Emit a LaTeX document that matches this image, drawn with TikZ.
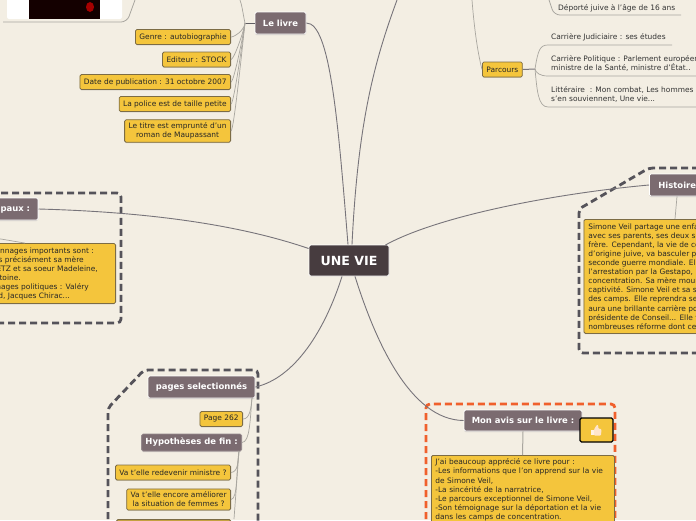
\documentclass[tikz,border=0pt]{standalone}
\usepackage{fontspec}
\setmainfont{DejaVu Sans}
\usepackage{tikz}
\usetikzlibrary{positioning, calc, shadows}

\definecolor{paper}{HTML}{F3EEE3}
\definecolor{leafyellow}{HTML}{F4C53C}
\definecolor{leafedge}{HTML}{7C6C45}
\definecolor{titlegrey}{HTML}{7B6B70}
\definecolor{coredark}{HTML}{473C3F}
\definecolor{zonegrey}{HTML}{55535A}
\definecolor{zoneorange}{HTML}{F0602C}
\definecolor{linkgrey}{HTML}{77747A}
\definecolor{twiggrey}{HTML}{A9A69F}

\tikzset{
  leafbox/.style={draw=leafedge, fill=leafyellow, line width=0.8pt, rounded corners=1.5pt,
    font=\fontsize{7.45}{9.1}\selectfont, text=black!85, align=left, inner xsep=4pt, inner ysep=3pt,
    minimum height=15pt,
    drop shadow={shadow xshift=0pt, shadow yshift=-0.8pt, opacity=.35}},
  titlebox/.style={draw=white, fill=titlegrey, line width=0.8pt, rounded corners=1.5pt,
    font=\fontsize{8.45}{10}\bfseries\selectfont, text=white, inner sep=0pt,
    drop shadow={shadow xshift=0pt, shadow yshift=-1pt, opacity=.3}},
  plainleaf/.style={font=\fontsize{7.45}{9.1}\selectfont, text=black!80, align=left, inner sep=0pt, anchor=north west},
  zone/.style={line width=2.8pt, dash pattern=on 7pt off 4pt, rounded corners=4pt},
  mainlink/.style={draw=linkgrey, line width=0.9pt},
  twig/.style={draw=twiggrey, line width=0.7pt},
  under/.style={draw=twiggrey, line width=0.8pt, rounded corners=6pt},
}

\begin{document}
\begin{tikzpicture}[x=1pt, y=-1pt]
\useasboundingbox (0,0) rectangle (696,520);
\clip (0,0) rectangle (696,520);
\fill[paper] (0,0) rectangle (696,520);

% zones
\draw[zone, zonegrey] (-10,193) -- (121,193) -- (121,323) -- (-10,323);
\draw[zone, zonegrey] (710,168) -- (649,168) -- (579,209) -- (579,353) -- (710,353);
\draw[zone, zonegrey] (108,530) -- (108,408) -- (144,370) -- (258,370) -- (258,530);
\draw[zone, zoneorange] (426,530) -- (426,404) -- (615,404) -- (615,530);

% book cover
\fill[white, rounded corners=2pt] (7,-5) rectangle (122,19);
\fill[black!92!red] (29,-5) rectangle (100,19);
\fill[red!65!black] (90,7) circle [x radius=4, y radius=5];
\coordinate (coverend) at (135,0);
\coordinate (coverstart) at (3,22);
\draw[under] (coverstart) -- (127,22) -- (coverend);

% centre and main branches
\node[draw=white, fill=coredark, line width=0.8pt, rounded corners=1.5pt, inner sep=0pt,
  minimum width=80pt, minimum height=31pt, text=white, font=\fontsize{12.6}{14}\bfseries\selectfont] (vie) at (349,260.5) {UNE VIE};

\node[titlebox, minimum width=51pt, minimum height=22pt] (livre) at (280.5,23) {Le livre};
\node[leafbox, anchor=east] (genre) at (231,37) {Genre : autobiographie};
\node[leafbox, anchor=east] (editeur) at (231,59.5) {Editeur : STOCK};
\node[leafbox, anchor=east] (date) at (231,82) {Date de publication : 31 octobre 2007};
\node[leafbox, anchor=east] (police) at (231,104) {La police est de taille petite};
\node[leafbox, anchor=east, align=center] (titre) at (231,131) {Le titre est emprunté d'un\\roman de Maupassant};

\coordinate (livrefork) at (245,23);
\coordinate (livreup) at (240,0);
\draw[line width=1pt, draw=linkgrey!80!black] (livre.west) -- (livrefork);
\draw[twig] (livrefork) .. controls (243,14) and (242,5) .. (livreup);
\foreach \leaf in {genre, editeur, date, police, titre}
  \draw[twig] (livrefork) .. controls +(-1,8) and +(3,0) .. (\leaf.east);

\draw[mainlink] (livre.east) .. controls (330,23) and (338,120) .. ($(vie.north)+(-1,0)$);
\coordinate (parcoursup) at (397,0);
\draw[mainlink] ($(vie.north)+(3,0)$) .. controls (358,120) and (375,60) .. (parcoursup);

\node[leafbox, anchor=west, inner ysep=0pt] (parcours) at (482,69.5) {Parcours};
\coordinate (parcourstop) at (472,0);
\draw[twig] (parcours.west) .. controls (477,50) and (474,25) .. (parcourstop);
\coordinate (parcoursfork) at (535,69);
\draw[line width=1pt, draw=linkgrey] (parcours.east) -- (parcoursfork);

\node[plainleaf] (deporte) at (558,4) {Déporté juive à l'âge de 16 ans};
\node[plainleaf] (judiciaire) at (551,33.5) {Carrière Judiciaire : ses études};
\node[plainleaf] (politique) at (551,55) {Carrière Politique : Parlement européen,\\ministre de la Santé, ministre d'État..};
\node[plainleaf] (litteraire) at (551,86) {Littéraire\ \ : Mon combat, Les hommes\\s'en souviennent, Une vie...};

\coordinate (depup) at (549,0);
\coordinate (depend) at (681,15);
\coordinate (judend) at (672,45);
\coordinate (polend) at (700,76);
\coordinate (litend) at (700,107);
\draw[under] (depup) -- (554,15) -- (depend);
\draw[twig] (parcoursfork) .. controls (538,50) and (540,45) .. (548,45) -- (judend);
\draw[twig] (parcoursfork) .. controls (536,73) and (540,76) .. (548,76) -- (polend);
\draw[twig] (parcoursfork) .. controls (537,90) and (538,107) .. (548,107) -- (litend);

% personnages
\node[titlebox, anchor=east, minimum height=22pt, inner xsep=8pt] (principaux) at (38.5,209) {Personnages principaux :};
\draw[mainlink] (principaux.east) .. controls (150,212) and (240,225) .. ($(vie.west)+(0,-12)$);
\node[draw=leafedge, fill=leafyellow, line width=0.8pt, rounded corners=1.5pt,
  minimum width=130pt, minimum height=60pt, anchor=east,
  drop shadow={shadow xshift=0pt, shadow yshift=-0.8pt, opacity=.35}] (persobox) at (116,273.5) {};
\coordinate (persoin) at (-5,238);
\draw[twig] (persoin) -- ($(persobox.north east)+(-91,0)$);
\foreach \txt/\xend/\yline [count=\i] in {
  {personnages importants sont :}/94/251,
  {plus précisément sa mère}/84/260,
  {STEINMETZ et sa soeur Madeleine,}/98/269,
  {Antoine.}/21/278,
  {personnages politiques : Valéry}/89/287,
  {Giscard, Jacques Chirac...}/70/296}
  \node[font=\fontsize{7.45}{9.1}\selectfont, text=black!85, inner sep=0pt, anchor=east] (perso\i) at (\xend,\yline) {\txt};

% histoire
\node[titlebox, anchor=west, minimum width=70pt, minimum height=22pt, text width=62pt, inner xsep=4pt, align=left] (histoire) at (649,185) {\hspace*{5pt}Histoire};
\draw[mainlink] ($(vie.east)+(-4,-15.5)$) .. controls (440,215) and (560,193) .. (histoire.west);
\node[leafbox, anchor=north west, inner xsep=4.5pt, inner ysep=3.5pt, minimum height=114pt] (simone) at (583.5,219) {Simone Veil partage une enfance\\avec ses parents, ses deux soeurs\\frère. Cependant, la vie de cette\\d'origine juive, va basculer pendant\\seconde guerre mondiale. Elle\\l'arrestation par la Gestapo,\\concentration. Sa mère mourra\\captivité. Simone Veil et sa soeur\\des camps. Elle reprendra ses\\aura une brillante carrière politique\\présidente de Conseil... Elle fera\\nombreuses réforme dont celle};
\draw[twig] ($(histoire.south west)+(28,0)$) -- ($(simone.north west)+(91.5,0)$);

% pages
\node[titlebox, minimum width=107pt, minimum height=22pt] (pages) at (201.5,387) {pages selectionnés};
\draw[mainlink] ($(vie.south)+(-7,0)$) .. controls (325,330) and (295,378) .. (pages.east);
\node[leafbox, anchor=east] (page) at (243,419) {Page 262};
\node[titlebox, anchor=east, draw=titlegrey!80!white, minimum width=100pt, minimum height=17pt] (hypo) at (242,442.5) {Hypothèses de fin :};
\coordinate (pagesfork) at (252,398);
\coordinate (hypofork) at (239,451);
\draw[twig] (pagesfork) .. controls (251,408) and (250,419) .. (page.east);
\draw[twig] (pagesfork) .. controls (250,420) and (250,442) .. (hypo.east);
\node[leafbox, anchor=east] (ministre) at (231,472.5) {Va t'elle redevenir ministre ?};
\node[leafbox, anchor=east, align=center] (femmes) at (231,499.5) {Va t'elle encore améliorer\\la situation de femmes ?};
\node[draw=leafedge, fill=leafyellow!60!leafedge, line width=0.8pt, rounded corners=1.5pt,
  anchor=north east, minimum width=114pt, minimum height=20pt] (suite) at (231,519) {};
\draw[twig] (hypofork) .. controls (238,462) and (238,472) .. (ministre.east);
\draw[twig] (hypofork) .. controls (236,470) and (238,499) .. (femmes.east);
\draw[twig] (hypofork) -- ($(suite.north east)+(3,0)$);

% avis
\node[titlebox, minimum width=118pt, minimum height=21pt] (avis) at (523,420.5) {Mon avis sur le livre :};
\draw[mainlink] ($(vie.south)+(6,0)$) .. controls (375,340) and (410,420) .. (avis.west);
\node[draw=black, fill=leafyellow, line width=1.2pt, rounded corners=1.5pt,
  minimum width=33pt, minimum height=24pt] (pouce) at (596.5,430) {};
\fill[white!90!orange] ($(pouce.center)+(-5.5,0)$) rectangle ($(pouce.center)+(-2.5,5)$);
\fill[orange!20!white, rounded corners=1pt] ($(pouce.center)+(-2.5,-0.5)$) -- ($(pouce.center)+(0.5,-5.5)$) -- ($(pouce.center)+(2,-4.5)$) -- ($(pouce.center)+(1.5,-1.5)$) -- ($(pouce.center)+(5,-1)$) -- ($(pouce.center)+(4.5,5.5)$) -- ($(pouce.center)+(-2.5,5.5)$) -- cycle;
\node[leafbox, anchor=north west, inner xsep=4pt, inner ysep=3.5pt, text width=175pt] (avistxt) at (431,455) {J'ai beaucoup apprécié ce livre pour :\\-Les informations que l'on apprend sur la vie\\de Simone Veil,\\-La sincérité de la narratrice,\\-Le parcours exceptionnel de Simone Veil,\\-Son témoignage sur la déportation et la vie\\dans les camps de concentration.\rule[-30pt]{0pt}{30pt}};
\draw[line width=1pt, draw=twiggrey] (avis.south) -- ($(avistxt.north west)+(91.5,0)$);

\end{tikzpicture}
\end{document}
